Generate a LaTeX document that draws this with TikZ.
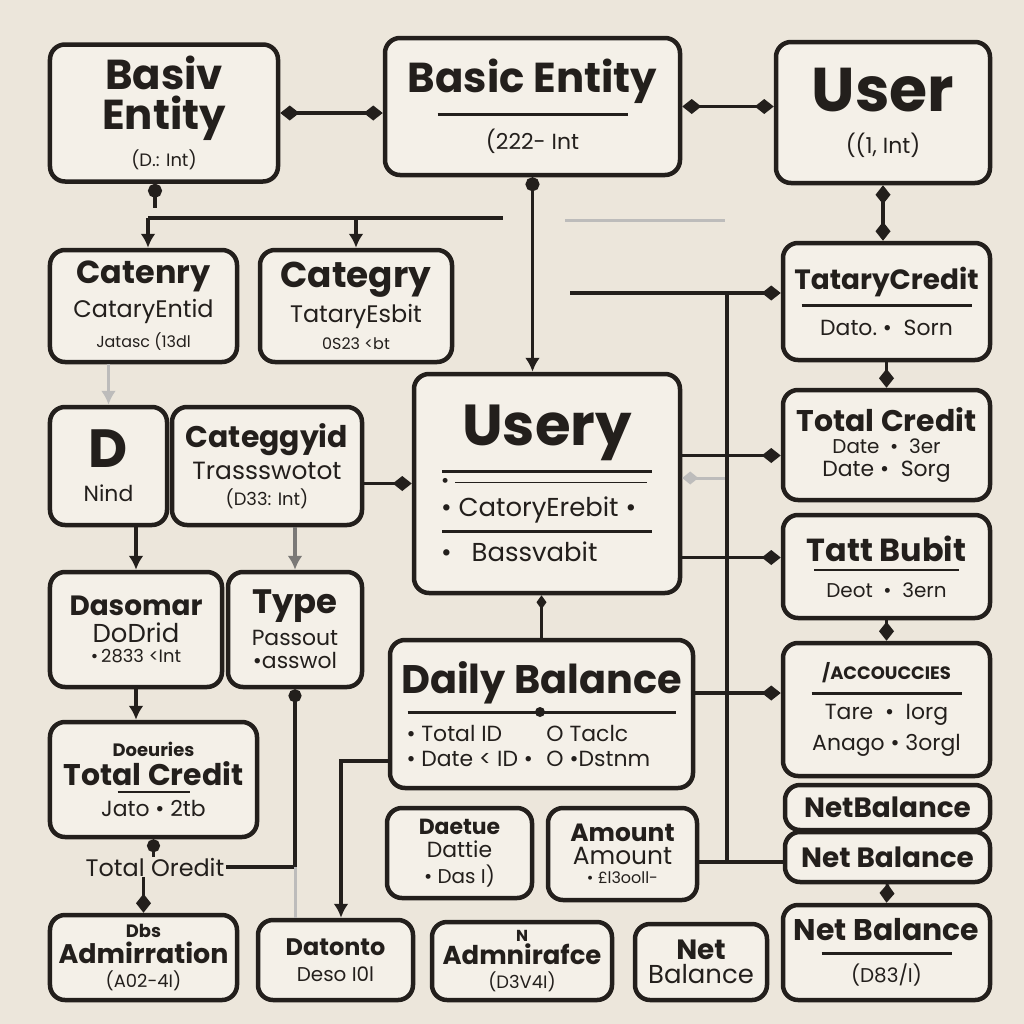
\documentclass[tikz,border=0pt]{standalone}
\usepackage{fontspec}
\setmainfont{Poppins}
\usetikzlibrary{arrows.meta}

\definecolor{ink}{HTML}{231F1C}
\definecolor{paper}{HTML}{F4F0E8}
\definecolor{backdrop}{HTML}{ECE6DB}
\newcommand{\entT}[2]{{\fontsize{#1}{#1}\selectfont\bfseries #2}}
\newcommand{\entS}[2]{{\fontsize{#1}{#1}\selectfont #2}}

\begin{document}
\begin{tikzpicture}[x=1bp, y=-1bp,
	ent/.style={draw=ink, line width=4.5bp, fill=paper, rounded corners=15bp, align=center, inner sep=0pt, text=ink, font=\fontsize{4}{4}\selectfont},
	link/.style={draw=ink, line width=3.5bp},
	ghost/.style={draw=ink!30, line width=3bp},
	todia/.style={-{Diamond[length=19bp,width=15bp]}},
	bidia/.style={{Diamond[length=19bp,width=15bp]}-{Diamond[length=19bp,width=15bp]}},
	tri/.style={-{Latex[length=14bp,width=15bp]}}]
		%Canvas
		\fill[backdrop] (0,0) rectangle (1024,1024);
		\useasboundingbox (0,0) rectangle (1024,1024);
		
		%Top row
		\node[ent, minimum width=228bp, minimum height=137bp] (basiv) at (164,113) {\entT{42}{Basiv}\\[5bp]\entT{42}{Entity}\\[8bp]\entS{18}{(D.: Int)}};
		\node[ent, minimum width=295bp, minimum height=137bp] (basic) at (532.5,106.5) {\entT{42}{Basic Entity}\\[8bp]\rule{190bp}{3bp}\\[12bp]\entS{22}{(222- Int}};
		\node[ent, minimum width=214bp, minimum height=141bp] (user) at (883,112.5) {\entT{62}{User}\\[20bp]\entS{22}{((1, Int)}};
		
		%Left columns
		\node[ent, minimum width=187bp, minimum height=112bp] (catenry) at (143.5,306) {\entT{32}{Catenry}\\[6bp]\entS{24}{CataryEntid}\\[8bp]\entS{16}{Jatasc (13dl}};
		\node[ent, minimum width=192bp, minimum height=112bp] (catgr) at (356,306) {\entT{36}{Categry}\\[6bp]\entS{24}{TataryEsbit}\\[8bp]\entS{16}{0S23 <bt}};
		\node[ent, minimum width=117bp, minimum height=118bp] (nind) at (108.5,466) {\entT{54}{D}\\[16bp]\entS{22}{Nind}};
		\node[ent, minimum width=190bp, minimum height=118bp] (categ) at (267,466) {\entT{30}{Categgyid}\\[6bp]\entS{25}{Trassswotot}\\[8bp]\entS{18}{(D33: Int)}};
		\node[ent, minimum width=172bp, minimum height=115bp] (daso) at (136,629.5) {\entT{28}{Dasomar}\\[6bp]\entS{26}{DoDrid}\\[6bp]\entS{18}{\textbullet\,2833 <Int}};
		\node[ent, minimum width=134bp, minimum height=115bp] (type) at (295,629.5) {\entT{34}{Type}\\[6bp]\entS{22}{Passout}\\[6bp]\entS{22}{\textbullet asswol}};
		\node[ent, minimum width=207bp, minimum height=115bp] (doe) at (153.5,779.5) {\entT{18}{Doeuries}\\[3bp]\entT{30}{Total Credit}\\[4bp]\rule{72bp}{2bp}\\[6bp]\entS{22}{Jato \textbullet\ 2tb}};
		\node[text=ink, inner sep=1bp, font=\fontsize{24}{24}\selectfont] (lbl) at (155,867) {Total Oredit};
		\node[ent, minimum width=187bp, minimum height=85bp] (admin) at (143.5,957.5) {\entT{18}{Dbs}\\[3bp]\entT{27}{Admirration}\\[6bp]\entS{18}{(A02-4I)}};
		\node[ent, minimum width=155bp, minimum height=80bp] (dato) at (335.5,960) {\entT{24}{Datonto}\\[10bp]\entS{20}{Deso I0l}};
		
		%Middle column
		\node[ent, minimum width=266bp, minimum height=219bp] (usery) at (547,483.5) {\entT{58}{Usery}\\[8bp]
			\rule{210bp}{3bp}\\[4bp]
			\makebox[212bp][l]{\entS{20}{\textbullet}\hspace{6bp}\rule[4bp]{192bp}{1.2bp}}\\[8bp]
			\makebox[212bp][l]{\entS{26}{\textbullet\ CatoryErebit \textbullet}}\\[6bp]
			\rule{210bp}{3bp}\\[8bp]
			\makebox[212bp][l]{\entS{26}{\textbullet\hspace{20bp}Bassvabit}}};
		\node[ent, minimum width=303bp, minimum height=148bp] (daily) at (541.5,714) {\entT{40}{Daily Balance}\\[6bp]
			\rule{268bp}{3bp}\\[10bp]
			\makebox[140bp][l]{\entS{22}{\textbullet\ Total ID}}\makebox[130bp][l]{\entS{22}{O Taclc}}\\[8bp]
			\makebox[140bp][l]{\entS{22}{\textbullet\ Date < ID \textbullet}}\makebox[130bp][l]{\entS{22}{O \textbullet Dstnm}}};
		\node[ent, minimum width=145bp, minimum height=90bp] (daetue) at (459.5,853) {\entT{22}{Daetue}\\[6bp]\entS{22}{Dattie}\\[6bp]\entS{20}{\textbullet\ Das I)}};
		\node[ent, minimum width=149bp, minimum height=92bp] (amount) at (622.5,854) {\entT{25}{Amount}\\[5bp]\entS{25}{Amount}\\[6bp]\entS{16}{\textbullet\ £l3ooll-}};
		\node[ent, minimum width=180bp, minimum height=78bp] (admn) at (522,961) {\entT{16}{N}\\[2bp]\entT{26}{Admnirafce}\\[6bp]\entS{18}{(D3V4I)}};
		\node[ent, minimum width=132bp, minimum height=76bp] (net) at (701,962) {\entT{28}{Net}\\[4bp]\entS{26}{Balance}};
		
		%Right column
		\node[ent, minimum width=207bp, minimum height=117bp] (tcred) at (886.5,301.5) {\entT{28}{TataryCredit}\\[6bp]\rule{170bp}{2.5bp}\\[12bp]\entS{22}{Dato.\ \textbullet\ \ Sorn}};
		\node[ent, minimum width=207bp, minimum height=110bp] (totc) at (886.5,445) {\entT{30}{Total Credit}\\[6bp]\entS{20}{Date\ \ \textbullet\ \ 3er}\\[6bp]\entS{22}{Date \textbullet\ \ Sorg}};
		\node[ent, minimum width=207bp, minimum height=103bp] (tbub) at (886.5,566.5) {\entT{32}{Tatt Bubit}\\[6bp]\rule{145bp}{2.5bp}\\[10bp]\entS{20}{Deot\ \ \textbullet\ \ 3ern}};
		\node[ent, minimum width=207bp, minimum height=133bp] (acc) at (886.5,709.5) {\entT{18}{/ACCOUCCIES}\\[8bp]\rule{150bp}{2.5bp}\\[8bp]\entS{22}{Tare\ \ \textbullet\ \ Iorg}\\[8bp]\entS{22}{Anago \textbullet\ 3orgl}};
		\node[ent, minimum width=205bp, minimum height=45bp] (nbA) at (887.5,807.5) {\entT{28}{NetBalance}};
		\node[ent, minimum width=205bp, minimum height=50bp] (nbB) at (887.5,857) {\entT{28}{Net Balance}};
		\node[ent, minimum width=207bp, minimum height=95bp] (nbC) at (886.5,952.5) {\entT{30}{Net Balance}\\[10bp]\rule{130bp}{3bp}\\[8bp]\entS{20}{(D83/I)}};
		
		%Free ends
		\coordinate (stubA) at (155,208);
		\coordinate (busL) at (148,218);
		\coordinate (busM) at (503,218);
		\coordinate (ghostA) at (565,220);
		\coordinate (ghostB) at (725,220);
		\coordinate (busT) at (727,293);
		\coordinate (busB) at (727,862);
		\coordinate (stubT) at (570,293);
		\coordinate (ghostC) at (725,478);
		\coordinate (elbowD) at (341,761);
		
		%Connectors
		\draw[link, bidia] (basiv.east) -- (basiv.east -| basic.west);
		\draw[link, bidia] (basic.east) -- (basic.east -| user.west);
		\draw[link, bidia] (user.south) -- (user.south |- tcred.north);
		\draw[link, {Circle[length=14bp]}-] (basiv.south -| stubA) -- (stubA);
		\draw[link] (busL) -- (busM);
		\draw[ghost] (ghostA) -- (ghostB);
		\draw[link, tri] (busL) -- (busL |- catenry.north);
		\draw[link, tri] (catgr.north |- busL) -- (catgr.north);
		\draw[link, {Circle[length=14bp]}-{Latex[length=14bp,width=15bp]}] (basic.south) -- (basic.south |- usery.north);
		\draw[link] (busT) -- (busB);
		\draw[link, todia] (stubT) -- (stubT -| tcred.west);
		\draw[link, todia] ([yshift=28bp]usery.east) -- ([yshift=28bp]usery.east -| totc.west);
		\draw[ghost, {Diamond[length=16bp,width=13bp]}-] (usery.east |- ghostC) -- (ghostC);
		\draw[link, todia] ([yshift=-74bp]usery.east) -- ([yshift=-74bp]usery.east -| tbub.west);
		\draw[link, todia] ([yshift=21bp]daily.east) -- ([yshift=21bp]daily.east -| acc.west);
		\draw[link] (amount.east |- busB) -- (busB -| nbB.west);
		\draw[link, todia] (tcred.south) -- (totc.north);
		\draw[link, todia] (tbub.south) -- (acc.north);
		\draw[link, todia] (nbB.south) -- (nbC.north);
		\draw[link, line width=2.5bp, {Diamond[length=14bp,width=10bp]}-] (daily.north |- usery.south) -- (daily.north);
		\fill[ink] (540,712) circle (5bp);
		\draw[link, todia] (categ.east |- usery.west) -- (usery.west);
		\draw[ghost, tri] (nind.north |- catenry.south) -- (nind.north);
		\draw[link, tri] (daso.north |- nind.south) -- (daso.north);
		\draw[link, draw=ink!60, tri] (type.north |- categ.south) -- (type.north);
		\draw[link, tri] (daso.south) -- (daso.south |- doe.north);
		\draw[link, {Circle[length=13bp]}-] (type.south) -- (type.south |- lbl.east) -- (lbl.east);
		\draw[ghost] (type.south |- lbl.east) -- (type.south |- dato.north);
		\draw[link, {Circle[length=13bp]}-] (doe.south) -- (doe.south |- lbl.north);
		\draw[link, todia] (lbl.south -| admin.north) -- (admin.north);
		\draw[link, tri] (daily.west |- elbowD) -- (elbowD) -- (elbowD |- dato.north);
	\end{tikzpicture}
\end{document}
